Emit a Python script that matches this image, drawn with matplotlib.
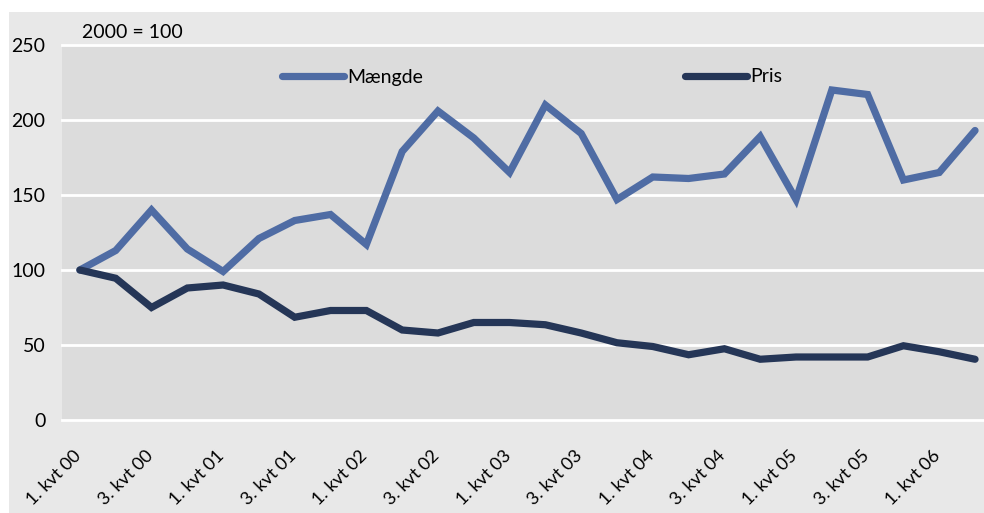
import matplotlib.pyplot as plt
from matplotlib.patches import Rectangle
from matplotlib.transforms import ScaledTranslation
import numpy as np

plt.rcParams['font.family'] = ['Lato', 'DejaVu Sans']

# quarters 2000Q1 .. 2006Q2
quarters = [f'{q}. kvt {y:02d}' for y in range(0, 7) for q in (1, 2, 3, 4)][:26]
maengde = [100, 113, 140, 114, 99, 121, 133, 137, 117, 179,
           206, 188, 165, 210, 191, 147, 162, 161, 164, 189,
           147, 220, 217, 160, 165, 193]
pris = [100, 94.5, 75, 88, 90, 84, 68.5, 73, 73, 60,
        58, 65, 65, 63.5, 58, 51.5, 49, 43.5, 47.5, 40.5,
        42, 42, 42, 49.5, 45.5, 40.5]
yticks = [0, 50, 100, 150, 200, 250]

W, H = 984, 513
fig = plt.figure(figsize=(W / 100, H / 100), dpi=100)
fig.patch.set_facecolor('white')
# outer grey panel
fig.patches.append(Rectangle((9 / W, 0), 1 - 9 / W, 1 - 12 / H,
                             transform=fig.transFigure, facecolor='#e8e8e8',
                             edgecolor='none', zorder=-10))

ax = fig.add_axes([62 / W, (H - 420) / H, 1 - 62 / W, 375 / H])
ax.set_facecolor('#dcdcdc')
x = np.arange(len(quarters))

ax.plot(x, maengde, color='#4f6ca4', linewidth=5.2, label='Mængde',
        solid_capstyle='round', solid_joinstyle='miter', zorder=3)
ax.plot(x, pris, color='#253657', linewidth=5.2, label='Pris',
        solid_capstyle='round', solid_joinstyle='miter', zorder=4)

ax.set_xlim(-0.5, 25.25)
ax.set_ylim(0, 250)
ax.set_yticks(yticks)
ax.set_yticklabels([str(v) for v in yticks], fontsize=14)
ax.set_xticks(x[::2])
ax.set_xticklabels(quarters[::2], rotation=45, ha='right', va='top',
                   rotation_mode='anchor', fontsize=13)
ax.tick_params(axis='both', length=0)
ax.tick_params(axis='y', pad=12)
ax.tick_params(axis='x', pad=16)
shift = ScaledTranslation(-5 / 72, -4 / 72, fig.dpi_scale_trans)
for lab in ax.get_xticklabels():
    lab.set_transform(lab.get_transform() + shift)
for s in ax.spines.values():
    s.set_visible(False)
ax.set_axisbelow(True)
for yv in yticks:
    ax.axhline(yv, color='white', linewidth=2, zorder=1, clip_on=False)

fig.text(82 / W, 1 - 32 / H, '2000 = 100', fontsize=14, va='center', ha='left')

leg = ax.legend(loc='center', bbox_to_anchor=(532 / W, 1 - 77 / H),
                bbox_transform=fig.transFigure, ncol=2, frameon=False,
                fontsize=14, handlelength=3.2, handletextpad=0.15,
                columnspacing=13.5)

fig.savefig('out.png', dpi=100)
